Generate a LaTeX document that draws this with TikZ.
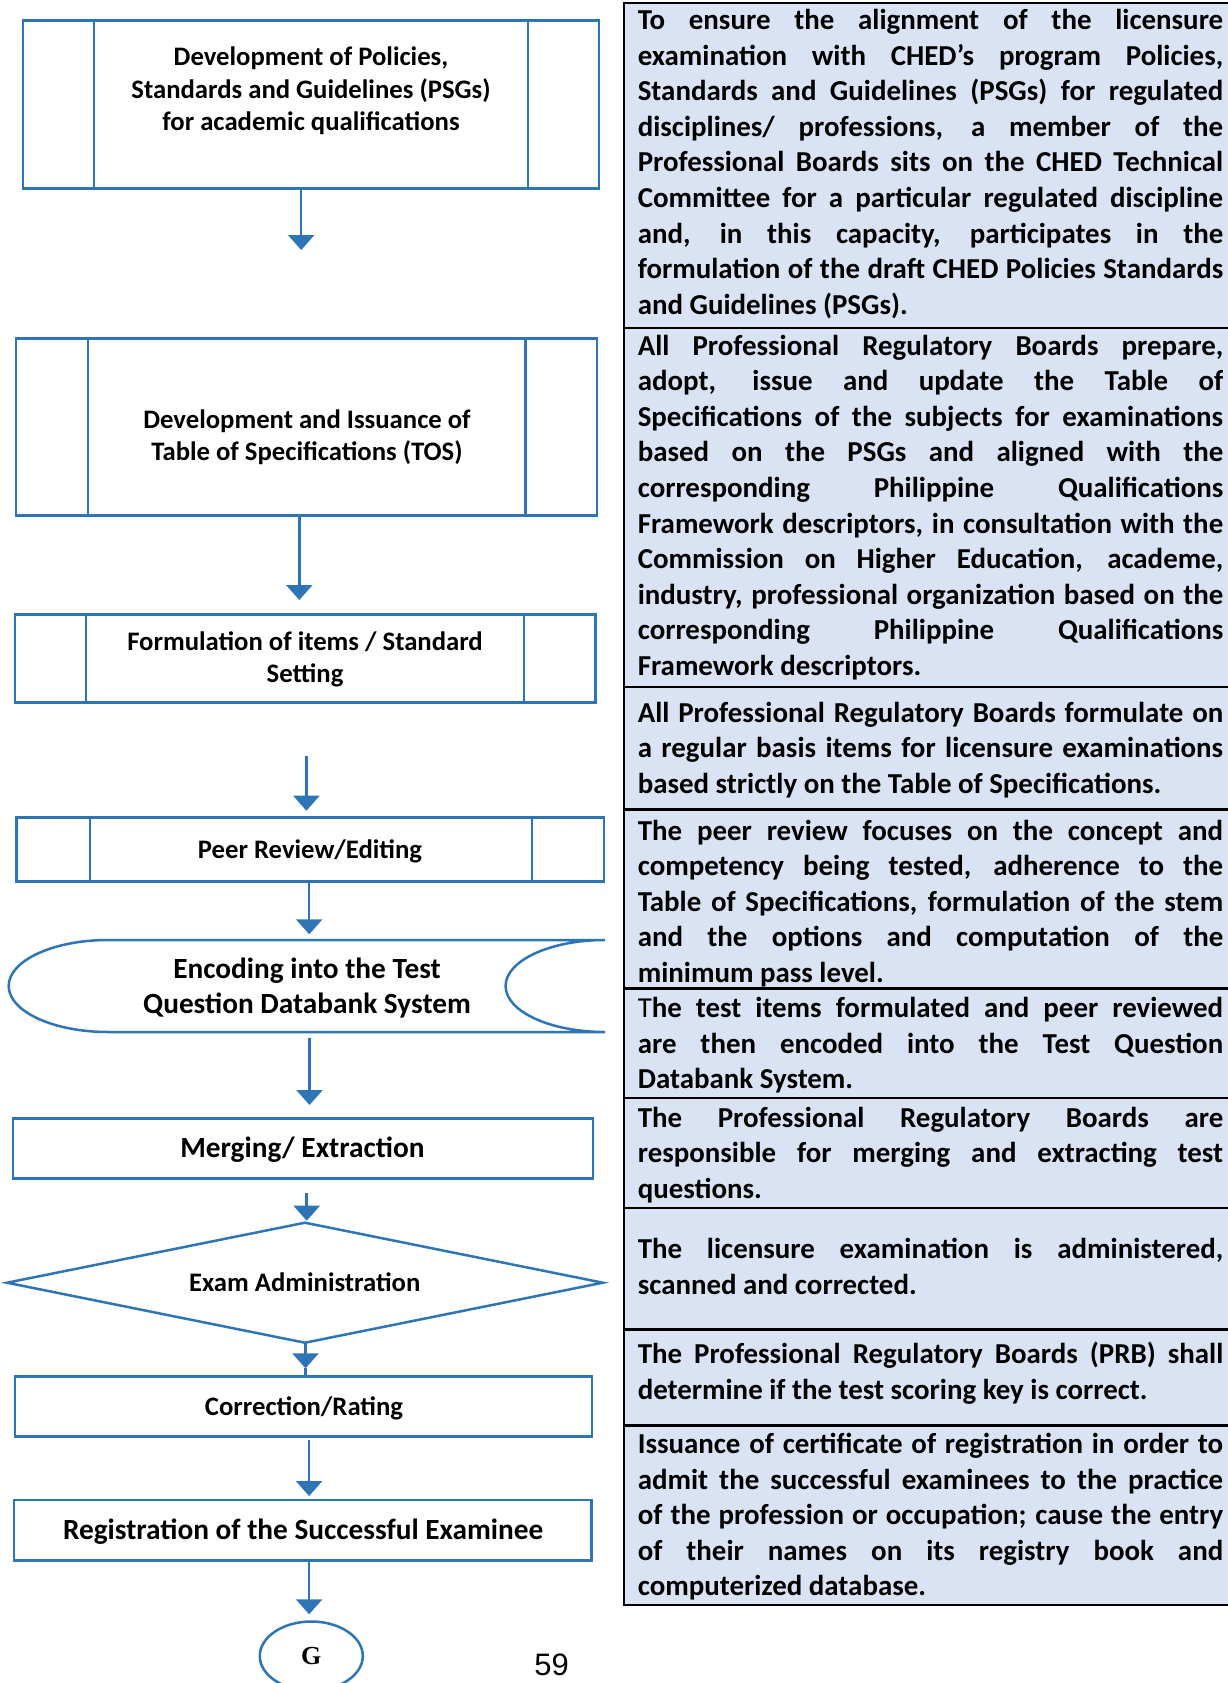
\documentclass[tikz,border=0pt]{standalone}
\usepackage{fontspec}
\setmainfont{Carlito}
\newfontfamily\gfont{Liberation Serif}
\newfontfamily\pgnumfont{Liberation Sans}
\usetikzlibrary{arrows.meta,shapes.geometric}
\definecolor{flowblue}{RGB}{46,117,182}
\definecolor{cellfill}{RGB}{218,227,243}
\newlength{\colw}\setlength{\colw}{585.4pt}
% natural, stretchable interword spaces of the font
\newcommand{\fontspaces}{\spaceskip=0pt\xspaceskip=0pt\relax}
% natural interword spaces that do not stretch
\newcommand{\fixedspaces}{\spaceskip=\fontdimen2\font\xspaceskip=\fontdimen2\font\relax}
% one justified line of a table cell
\newcommand{\jline}[1]{\makebox[\colw][s]{\fontspaces #1}}

\begin{document}
\begin{tikzpicture}[x=1pt,y=-1pt,
  flowline/.style={draw=flowblue, line width=2.5pt},
  procbox/.style={flowline, rectangle, inner sep=0pt},
  anchorbox/.style={inner sep=0pt, outer sep=0pt},
  arr/.style={flowblue, line width=2.5pt, -{Triangle[width=26pt,length=15pt]}},
  flowtxt/.style={font=\bfseries\fontsize{26.7}{32.3}\selectfont, align=center, text width=520pt, anchor=base, inner sep=0pt, execute at begin node=\fixedspaces},
  bigtxt/.style={font=\bfseries\fontsize{29.3}{35}\selectfont, align=center, text width=560pt, anchor=base, inner sep=0pt, execute at begin node=\fixedspaces},
  celltxt/.style={font=\bfseries\fontsize{28.9}{35.6}\selectfont, align=left, text width=\colw, anchor=base west, inner sep=0pt, execute at begin node=\fontspaces},
  tablerule/.style={draw=black, line width=2.5pt}]

\useasboundingbox (0,0) rectangle (1228,1683);
\fill[white] (0,0) rectangle (1228,1683);

% ---------------- description table ----------------
\fill[cellfill] (623.8,3) rectangle (1228,1605);
\foreach \yy in {3,328,687,809.5,988.5,1098,1208,1329.5,1425.5,1605}
  \draw[tablerule] (622.55,\yy) -- (1228,\yy);
\draw[tablerule] (623.8,3) -- (623.8,1605);

\node[celltxt] (r1) at (637.6,29.5) {%
\jline{To ensure the alignment of the licensure}\\
\jline{examination with CHED’s program Policies,}\\
\jline{Standards and Guidelines (PSGs) for regulated}\\
\jline{disciplines/ professions, a member of the}\\
\jline{Professional Boards sits on the CHED Technical}\\
\jline{Committee for a particular regulated discipline}\\
\jline{and, in this capacity, participates in the}\\
\jline{formulation of the draft CHED Policies Standards}\\
and Guidelines (PSGs).};

\node[celltxt] (r2) at (637.6,355) {%
\jline{All Professional Regulatory Boards prepare,}\\
\jline{adopt, issue and update the Table of}\\
\jline{Specifications of the subjects for examinations}\\
\jline{based on the PSGs and aligned with the}\\
\jline{corresponding Philippine Qualifications}\\
\jline{Framework descriptors, in consultation with the}\\
\jline{Commission on Higher Education, academe,}\\
\jline{industry, professional organization based on the}\\
\jline{corresponding Philippine Qualifications}\\
Framework descriptors.};

\node[celltxt] (r3) at (637.6,722) {%
\jline{All Professional Regulatory Boards formulate on}\\
\jline{a regular basis items for licensure examinations}\\
based strictly on the Table of Specifications.};

\node[celltxt] (r4) at (637.6,840) {%
\jline{The peer review focuses on the concept and}\\
\jline{competency being tested, adherence to the}\\
\jline{Table of Specifications, formulation of the stem}\\
\jline{and the options and computation of the}\\
minimum pass level.};

\node[celltxt] (r5) at (637.6,1017.5) {%
\jline{{\mdseries T}he test items formulated and peer reviewed}\\
\jline{are then encoded into the Test Question}\\
Databank System.};

\node[celltxt] (r6) at (637.6,1127) {%
\jline{The Professional Regulatory Boards are}\\
\jline{responsible for merging and extracting test}\\
questions.};

\node[celltxt] (r7) at (637.6,1258.5) {%
\jline{The licensure examination is administered,}\\
scanned and corrected.};

\node[celltxt] (r8) at (637.6,1363.5) {%
\jline{The Professional Regulatory Boards (PRB) shall}\\
determine if the test scoring key is correct.};

\node[celltxt] (r9) at (637.6,1453.5) {%
\jline{Issuance of certificate of registration in order to}\\
\jline{admit the successful examinees to the practice}\\
\jline{of the profession or occupation; cause the entry}\\
\jline{of their names on its registry book and}\\
computerized database.};

% ---------------- flowchart ----------------
% predefined-process boxes
\node[procbox, minimum width=575.9, minimum height=168] (b1) at (310.85,104.7) {};
\draw[flowline] ([xshift=72.4pt]b1.north west) -- ([xshift=72.4pt]b1.south west);
\draw[flowline] ([xshift=-72.3pt]b1.north east) -- ([xshift=-72.3pt]b1.south east);
\node[flowtxt] (l1) at (311,66) {Development of Policies,\\Standards and Guidelines (PSGs)\\for academic qualifications};

\node[procbox, minimum width=581.2, minimum height=177.4] (b2) at (306.4,427) {};
\draw[flowline] ([xshift=73.6pt]b2.north west) -- ([xshift=73.6pt]b2.south west);
\draw[flowline] ([xshift=-72.7pt]b2.north east) -- ([xshift=-72.7pt]b2.south east);
\node[flowtxt] (l2) at (307,428.3) {Development and Issuance of\\Table of Specifications (TOS)};

\node[procbox, minimum width=580.5, minimum height=87.6] (b3) at (305.25,658.5) {};
\draw[flowline] ([xshift=72.4pt]b3.north west) -- ([xshift=72.4pt]b3.south west);
\draw[flowline] ([xshift=-72.8pt]b3.north east) -- ([xshift=-72.8pt]b3.south east);
\node[flowtxt] (l3) at (305,650) {Formulation of items / Standard\\Setting};

\node[procbox, minimum width=587.2, minimum height=64] (b4) at (310.2,849.7) {};
\draw[flowline] ([xshift=74.4pt]b4.north west) -- ([xshift=74.4pt]b4.south west);
\draw[flowline] ([xshift=-73.2pt]b4.north east) -- ([xshift=-73.2pt]b4.south east);
\node[flowtxt] (l4) at (310,858.3) {Peer Review/Editing};

% stored-data shape
\node[anchorbox, minimum width=596.3, minimum height=92] (sd) at (306.85,986) {};
\draw[flowline] (108.1,940) -- (605,940)
  arc[start angle=-90, end angle=-270, x radius=99.4, y radius=46]
  -- (108.1,1032)
  arc[start angle=90, end angle=270, x radius=99.4, y radius=46] -- cycle;
\node[bigtxt] (l5) at (307,978.3) {Encoding into the Test\\Question Databank System};

% process boxes
\node[procbox, minimum width=579.9, minimum height=60] (b6) at (302.95,1148.3) {};
\node[bigtxt] (l6) at (302.4,1157.3) {Merging/ Extraction};

% decision
\node[anchorbox, minimum width=595.7, minimum height=120] (dia) at (304.95,1282.7) {};
\draw[flowline, line join=miter] (dia.north) -- (dia.east) -- (dia.south) -- (dia.west) -- cycle;
\node[flowtxt] (ld) at (304.7,1291.7) {Exam Administration};

\node[procbox, minimum width=577.1, minimum height=60] (b7) at (303.55,1406.7) {};
\node[flowtxt] (l7) at (304,1415) {Correction/Rating};

\node[procbox, minimum width=577.5, minimum height=60.7] (b8) at (302.95,1530.35) {};
\node[bigtxt] (l8) at (303.2,1539.3) {Registration of the Successful Examinee};

% off-page connector
\node[flowline, ellipse, minimum width=103, minimum height=69, inner sep=0pt,
      font=\gfont\bfseries\fontsize{26}{26}\selectfont] (g) at (311.3,1656) {G};

% page number
\node[font=\pgnumfont\fontsize{31}{31}\selectfont, anchor=base, inner sep=0pt] (pg) at (551.5,1675) {59};

% ---------------- connectors ----------------
\coordinate (t1) at (301.2,250);
\draw[arr] (b1.south -| t1) -- (t1);
\coordinate (t2) at (299.3,600);
\draw[arr] (b2.south -| t2) -- (t2);
\coordinate (s3) at (306.4,755.7);
\coordinate (t3) at (306.4,810.7);
\draw[arr] (s3) -- (t3);
\coordinate (t4) at (309.2,934.3);
\draw[arr] (b4.south -| t4) -- (t4);
\coordinate (s5) at (309.5,1038);
\coordinate (t5) at (309.5,1105);
\draw[arr] (s5) -- (t5);
\coordinate (s6) at (306.7,1193.3);
\coordinate (t6) at (306.7,1220.7);
\draw[arr] (s6) -- (t6);
\coordinate (t7) at (305.5,1368.3);
\draw[arr] (dia.south -| t7) -- (t7);
\draw[flowline] (t7) -- (b7.north -| t7);
\coordinate (s8) at (309.1,1440);
\coordinate (t8) at (309.1,1496);
\draw[arr] (s8) -- (t8);
\coordinate (t9) at (309.1,1614.3);
\draw[arr] (b8.south -| t9) -- (t9);

\end{tikzpicture}
\end{document}
